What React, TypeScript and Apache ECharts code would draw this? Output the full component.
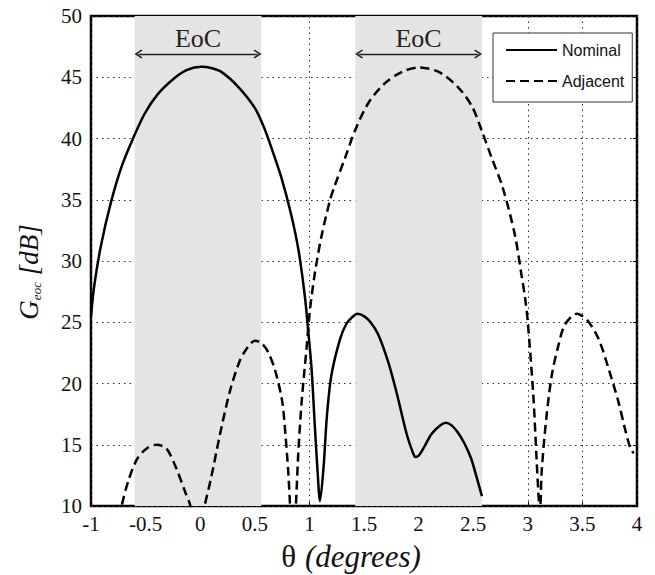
import React, { useEffect, useRef } from "react";
import * as echarts from "echarts";

const nominalTheta = [-1, -0.97, -0.91, -0.82, -0.72, -0.62, -0.51, -0.39, -0.24, -0.12, 0.01, 0.1, 0.2, 0.35, 0.5, 0.58, 0.65, 0.74, 0.83, 0.9, 0.96, 0.99, 1.02, 1.05, 1.075, 1.097, 1.13, 1.16, 1.2, 1.28, 1.34, 1.39, 1.44, 1.5, 1.56, 1.63, 1.72, 1.8, 1.89, 1.95, 1.97, 2.0, 2.05, 2.12, 2.2, 2.25, 2.3, 2.36, 2.42, 2.48, 2.53, 2.58];
const nominalGain = [25.5, 28.0, 31.2, 34.7, 37.7, 39.9, 42.0, 43.6, 44.9, 45.6, 45.85, 45.75, 45.4, 44.2, 42.5, 41.0, 39.3, 36.9, 33.9, 30.9, 27.0, 24.2, 21.2, 16.5, 12.8, 10.4, 13.2, 17.3, 20.6, 23.6, 24.9, 25.4, 25.7, 25.5, 25.0, 24.0, 21.8, 19.2, 15.9, 14.3, 14.0, 14.1, 14.8, 15.9, 16.6, 16.8, 16.6, 16.0, 15.1, 13.9, 12.4, 10.8];

const adjacentTheta = [-0.74, -0.72, -0.66, -0.58, -0.49, -0.4, -0.31, -0.22, -0.14, -0.09, -0.03, 0.04, 0.1, 0.18, 0.27, 0.36, 0.43, 0.5, 0.56, 0.62, 0.685, 0.75, 0.78, 0.807, 0.822, 0.85, 0.877, 0.9, 0.93, 0.975, 1.005, 1.05, 1.11, 1.19, 1.23, 1.33, 1.42, 1.54, 1.69, 1.85, 2.0, 2.18, 2.36, 2.49, 2.58, 2.67, 2.77, 2.88, 2.945, 2.975, 3.0, 3.05, 3.08, 3.1, 3.112, 3.127, 3.17, 3.22, 3.28, 3.34, 3.45, 3.55, 3.65, 3.74, 3.83, 3.89, 3.94, 3.97];
const adjacentGain = [9.0, 10.0, 12.0, 13.8, 14.7, 15.0, 14.7, 13.1, 11.2, 10.0, 7.0, 10.0, 12.3, 15.8, 19.3, 21.8, 22.9, 23.5, 23.3, 22.6, 21.1, 18.6, 15.9, 12.7, 10.2, 6.0, 10.2, 14.6, 18.6, 23.0, 26.0, 29.0, 32.0, 35.0, 36.1, 38.5, 40.7, 42.9, 44.5, 45.45, 45.8, 45.45, 44.2, 42.6, 40.6, 38.4, 36.0, 32.2, 28.7, 27.0, 25.0, 19.1, 13.9, 10.6, 9.5, 12.8, 17.2, 20.7, 23.1, 24.8, 25.7, 25.1, 23.6, 21.2, 18.5, 16.3, 14.7, 14.3];

const eocBands = [
  [-0.6, 0.56],
  [1.42, 2.58],
];
const eocArrowLevel = 46.9;
const eocLabel = "EoC";

const xTicks = { min: -1, max: 4, interval: 0.5 };
const yTicks = { min: 10, max: 50, interval: 5 };

const seriesNames = ["Nominal", "Adjacent"];

const chevron = "path://M5,0 L10,8.6 L8.8,10 L5,3.4 L1.2,10 L0,8.6 Z";

export default function App() {
  const ref = useRef<HTMLDivElement>(null);

  useEffect(() => {
    if (!ref.current) return;
    const chart = echarts.init(ref.current, null, { renderer: "svg" });
    const serif = "'Liberation Serif', 'Times New Roman', serif";
    const nominal = nominalTheta.map((t, i) => [t, nominalGain[i]]);
    const adjacent = adjacentTheta.map((t, i) => [t, adjacentGain[i]]);
    const arrowInset = 0.035;
    const gridLine = { show: true, lineStyle: { color: "#333", type: [1.5, 4], width: 1 } };

    chart.setOption({
      animation: false,
      grid: {
        left: 91,
        right: 18,
        top: 16,
        bottom: 69,
        show: true,
        borderColor: "#000",
        borderWidth: 2.5,
        backgroundColor: "transparent",
      },
      legend: {
        left: 493,
        top: 33,
        orient: "vertical",
        data: seriesNames,
        itemWidth: 51,
        itemHeight: 14,
        itemGap: 15,
        padding: [9, 8, 13, 12],
        backgroundColor: "#fff",
        borderColor: "#333",
        borderWidth: 1,
        borderRadius: 0,
        selectedMode: false,
        itemStyle: { opacity: 0 },
        textStyle: { fontFamily: "'Liberation Sans', Arial, sans-serif", fontSize: 16, color: "#111" },
      },
      xAxis: {
        type: "value",
        min: xTicks.min,
        max: xTicks.max,
        interval: xTicks.interval,
        axisLine: { show: false },
        axisTick: { show: true, inside: true, length: 4, lineStyle: { color: "#000" } },
        axisLabel: { fontFamily: serif, fontSize: 21, color: "#111", margin: 7 },
        splitLine: gridLine,
      },
      yAxis: [
        {
          type: "value",
          min: yTicks.min,
          max: yTicks.max,
          interval: yTicks.interval,
          axisLine: { show: false },
          axisTick: { show: true, inside: true, length: 4, lineStyle: { color: "#000" } },
          axisLabel: { fontFamily: serif, fontSize: 21, color: "#111", margin: 9 },
          splitLine: gridLine,
        },
        {
          type: "value",
          position: "right",
          min: yTicks.min,
          max: yTicks.max,
          interval: yTicks.interval,
          axisLine: { show: false },
          axisTick: { show: true, inside: true, length: 4, lineStyle: { color: "#000" } },
          axisLabel: { show: false },
          splitLine: { show: false },
        },
      ],
      series: [
        {
          name: "bands",
          type: "line",
          data: [],
          z: 1,
          silent: true,
          markArea: {
            silent: true,
            itemStyle: { color: "#e4e4e4", opacity: 1 },
            label: {
              show: true,
              position: "insideTop",
              distance: 9,
              formatter: eocLabel,
              fontFamily: serif,
              fontSize: 26,
              color: "#222",
            },
            data: eocBands.map(([a, b]) => [{ xAxis: a }, { xAxis: b }]),
          },
          markLine: {
            silent: true,
            symbol: [chevron, chevron],
            symbolSize: [9, 8],
            label: { show: false },
            lineStyle: { color: "#222", width: 1.3, type: "solid" },
            emphasis: { disabled: true },
            data: eocBands.map(([a, b]) => [
              { coord: [a + arrowInset, eocArrowLevel] },
              { coord: [b - arrowInset, eocArrowLevel] },
            ]),
          },
        },
        {
          name: seriesNames[0],
          type: "line",
          data: nominal,
          z: 3,
          symbol: "none",
          showSymbol: false,
          smooth: 0.3,
          clip: true,
          lineStyle: { color: "#000", width: 2.5, type: "solid" },
          itemStyle: { color: "#000" },
        },
        {
          name: seriesNames[1],
          type: "line",
          data: adjacent,
          z: 3,
          symbol: "none",
          showSymbol: false,
          smooth: 0.3,
          clip: true,
          lineStyle: { color: "#000", width: 2.5, type: [9, 5] },
          itemStyle: { color: "#000" },
        },
      ],
      graphic: [
        {
          type: "text",
          x: 351,
          y: 556,
          silent: true,
          style: {
            text: "{a|θ}{b|(degrees)}",
            align: "center",
            verticalAlign: "middle",
            textAlign: "center",
            textVerticalAlign: "middle",
            fill: "#111",
            rich: {
              a: { fontFamily: serif, fontSize: 31, color: "#111", padding: [0, 9, 0, 0] },
              b: { fontFamily: serif, fontSize: 31, fontStyle: "italic", color: "#111" },
            },
          },
        },
        {
          type: "text",
          x: 29,
          y: 272,
          rotation: Math.PI / 2,
          silent: true,
          style: {
            text: "{g|G}{s|eoc}{d| [dB]}",
            align: "center",
            verticalAlign: "middle",
            textAlign: "center",
            textVerticalAlign: "middle",
            fill: "#111",
            rich: {
              g: { fontFamily: serif, fontSize: 27, fontStyle: "italic", color: "#111", verticalAlign: "middle" },
              s: { fontFamily: serif, fontSize: 13, fontStyle: "italic", color: "#111", verticalAlign: "bottom" },
              d: { fontFamily: serif, fontSize: 27, fontStyle: "italic", color: "#111", verticalAlign: "middle" },
            },
          },
        },
      ],
    });

    return () => chart.dispose();
  }, []);

  return (
    <div
      ref={ref}
      style={{ position: "fixed", left: 0, top: 0, width: 655, height: 575, background: "#fff" }}
    />
  );
}
